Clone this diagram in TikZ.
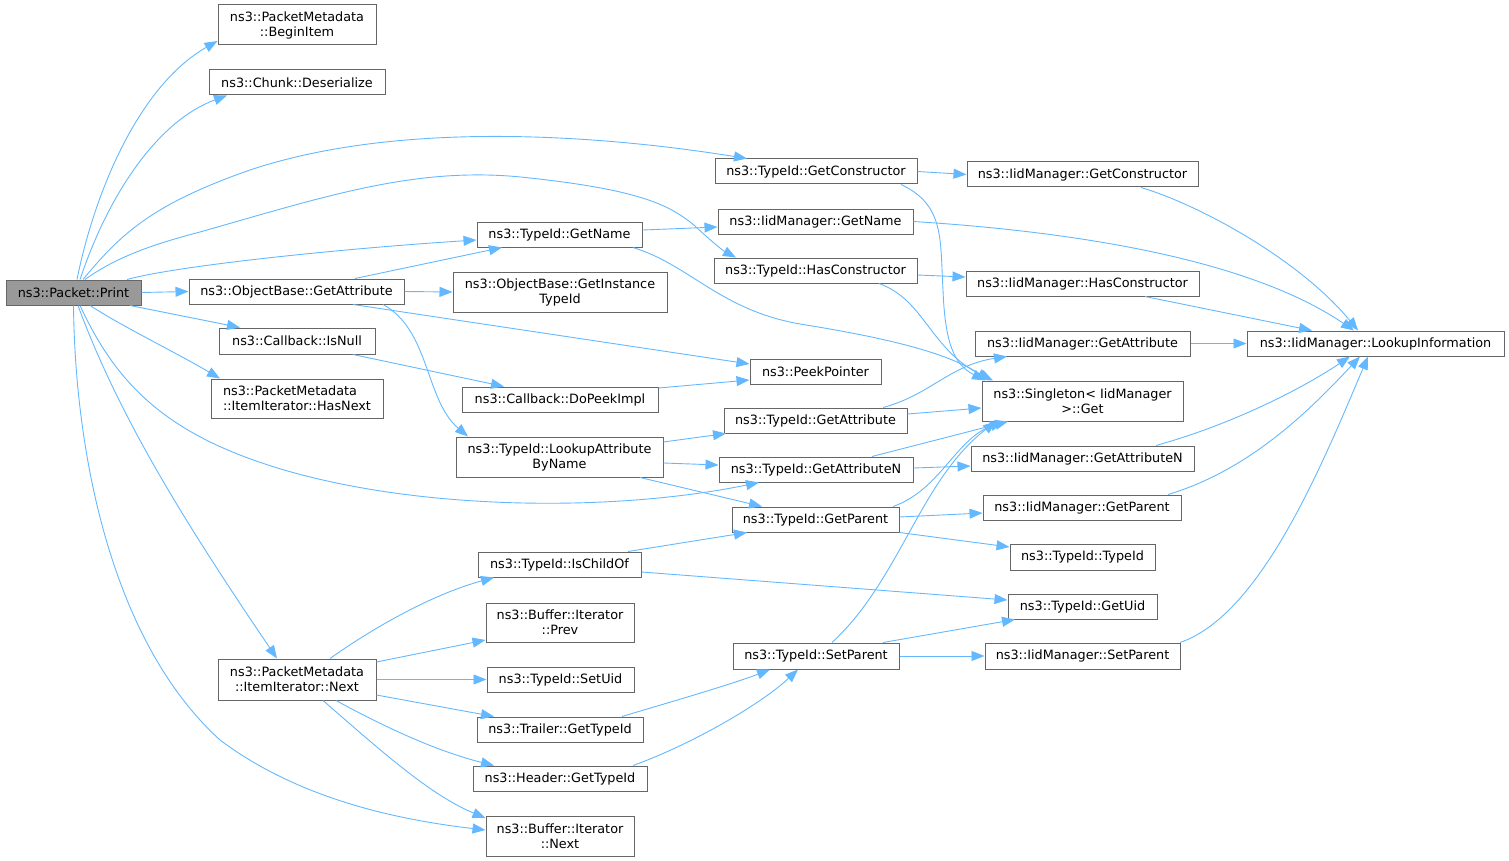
\documentclass[tikz,border=0pt]{standalone}
\usepackage{fontspec}
\setmainfont{DejaVu Sans}
\usetikzlibrary{arrows.meta}
\definecolor{edgeblue}{HTML}{63B8FF}
\definecolor{boxgray}{HTML}{666666}
\definecolor{printfill}{HTML}{999999}
\newcommand\nodefont{\fontsize{12.8}{15}\selectfont}
\newcommand\gnode[7][]{\node[box,#1,minimum width={(#5-#3)*1pt},minimum height={(#6-#4)*1pt}] (#2) at ({(#3+#5)/2},{(#4+#6)/2}) {#7};}
\tikzset{
  box/.style={draw=boxgray, fill=white, line width=1pt, inner sep=0pt, font=\nodefont, align=center},
  edge/.style={draw=edgeblue, line width=0.9pt, -{Triangle[length=13pt,width=10pt]}}
}
\begin{document}
\begin{tikzpicture}[x=1pt,y=-1pt]
\useasboundingbox (0,0) rectangle (1509,861);
% nodes
\gnode[fill=printfill]{print}{6}{280}{141}{305}{ns3::Packet::Print}
\gnode{beginitem}{218}{5}{376}{45}{ns3::PacketMetadata\\::BeginItem}
\gnode{deser}{209}{70}{385}{95}{ns3::Chunk::Deserialize}
\gnode{tgetctor}{715}{159}{917}{184}{ns3::TypeId::GetConstructor}
\gnode{igetctor}{967}{162}{1198}{187}{ns3::IidManager::GetConstructor}
\gnode{igetname}{718}{209}{913}{234}{ns3::IidManager::GetName}
\gnode{tgetname}{477}{222}{642}{247}{ns3::TypeId::GetName}
\gnode{thasctor}{714}{258}{917}{283}{ns3::TypeId::HasConstructor}
\gnode{ihasctor}{966}{271}{1199}{296}{ns3::IidManager::HasConstructor}
\gnode{oga}{189}{279}{404}{304}{ns3::ObjectBase::GetAttribute}
\gnode{ogit}{453}{272}{667}{312}{ns3::ObjectBase::GetInstance\\TypeId}
\gnode{isnull}{219}{328}{375}{354}{ns3::Callback::IsNull}
\gnode{igetattr}{975}{331}{1190}{356}{ns3::IidManager::GetAttribute}
\gnode{lookup}{1247}{331}{1504}{356}{ns3::IidManager::LookupInformation}
\gnode{peek}{750}{359}{881}{384}{ns3::PeekPointer}
\gnode{sget}{982}{381}{1183}{421}{ns3::Singleton< IidManager\\>::Get}
\gnode[align=left]{hasnext}{211}{379}{383}{418}{ns3::PacketMetadata\\::ItemIterator::HasNext}
\gnode{dopeek}{462}{387}{658}{412}{ns3::Callback::DoPeekImpl}
\gnode{tgetattr}{724}{408}{907}{433}{ns3::TypeId::GetAttribute}
\gnode{lookupattr}{456}{437}{663}{477}{ns3::TypeId::LookupAttribute\\ByName}
\gnode{tgetattrn}{719}{457}{913}{482}{ns3::TypeId::GetAttributeN}
\gnode{igetattrn}{971}{446}{1194}{471}{ns3::IidManager::GetAttributeN}
\gnode{tgetparent}{732}{507}{899}{532}{ns3::TypeId::GetParent}
\gnode{igetparent}{983}{495}{1181}{520}{ns3::IidManager::GetParent}
\gnode{ttypeid}{1010}{544}{1155}{570}{ns3::TypeId::TypeId}
\gnode{ischild}{478}{552}{641}{577}{ns3::TypeId::IsChildOf}
\gnode{getuid}{1008}{594}{1157}{619}{ns3::TypeId::GetUid}
\gnode{prev}{486}{603}{634}{642}{ns3::Buffer::Iterator\\::Prev}
\gnode{next}{218}{659}{376}{700}{ns3::PacketMetadata\\::ItemIterator::Next}
\gnode{setuid}{487}{667}{634}{692}{ns3::TypeId::SetUid}
\gnode{setparent}{733}{643}{899}{669}{ns3::TypeId::SetParent}
\gnode{isetparent}{985}{643}{1180}{669}{ns3::IidManager::SetParent}
\gnode{trailer}{477}{717}{643}{742}{ns3::Trailer::GetTypeId}
\gnode{header}{473}{766}{647}{791}{ns3::Header::GetTypeId}
\gnode{bnext}{486}{816}{634}{856}{ns3::Buffer::Iterator\\::Next}
% edges from Print
\draw[edge] ([xshift=3.5pt]print.north) .. controls (95,190) and (140,85) .. ([yshift=-16pt]beginitem.west);
\draw[edge] ([xshift=6.5pt]print.north) .. controls (110,190) and (160,120) .. ([xshift=-70pt]deser.south);
\draw[edge] ([xshift=9.5pt]print.north) .. controls (120,235) and (150,205) .. (250,170) .. controls (400,120) and (600,135) .. ([xshift=-69pt]tgetctor.north);
\draw[edge] ([xshift=11.5pt]print.north) .. controls (115,258) and (150,245) .. (200,232) .. controls (330,195) and (420,165) .. (530,178) .. controls (640,190) and (670,205) .. (695,226) .. controls (710,240) and (722,250) .. ([xshift=-79.5pt]thasctor.north);
\draw[edge] ([xshift=53.5pt]print.north) .. controls (180,265) and (350,248) .. ([yshift=-5.5pt]tgetname.west);
\draw[edge] (print.east) -- (oga.west);
\draw[edge] ([xshift=56.5pt]print.south) -- ([xshift=-57pt]isnull.north);
\draw[edge] ([xshift=16.5pt]print.south) .. controls (125,328) and (175,352) .. ([xshift=-77pt]hasnext.north);
\draw[edge] ([xshift=6.5pt]print.south) .. controls (110,370) and (150,420) .. (240,455) .. controls (380,510) and (600,515) .. ([xshift=-57pt]tgetattrn.south);
\draw[edge] ([xshift=4.5pt]print.south) .. controls (120,420) and (190,530) .. ([xshift=-20pt]next.north);
\draw[edge] (print.south) .. controls (75,450) and (110,640) .. (220,740) .. controls (300,800) and (400,820) .. ([yshift=6pt]bnext.west);
% ObjectBase::GetAttribute
\draw[edge] ([xshift=58.5pt]oga.north) -- ([xshift=-57.5pt]tgetname.south);
\draw[edge] (oga.east) -- (ogit.west);
\draw[edge] ([xshift=56.5pt]oga.south) -- ([yshift=7.5pt]peek.west);
\draw[edge] ([xshift=86.5pt]oga.south) .. controls (430,330) and (425,400) .. ([xshift=-91.5pt]lookupattr.north);
% Callback
\draw[edge] ([xshift=56pt]isnull.south) -- ([xshift=-56pt]dopeek.north);
\draw[edge] ([yshift=11.5pt]dopeek.east) -- ([yshift=-8.5pt]peek.west);
% TypeId::GetName
\draw[edge] ([yshift=4.5pt]tgetname.east) -- ([yshift=-5.5pt]igetname.west);
\draw[edge] ([xshift=73.5pt]tgetname.south) .. controls (690,265) and (720,310) .. (800,324) .. controls (900,340) and (950,355) .. ([xshift=-92.5pt]sget.north);
% TypeId::GetConstructor
\draw[edge] (tgetctor.east) -- (igetctor.west);
\draw[edge] ([xshift=85pt]tgetctor.south) .. controls (945,205) and (940,240) .. (943,290) .. controls (945,345) and (955,365) .. ([xshift=-97.5pt]sget.north);
% TypeId::HasConstructor
\draw[edge] ([yshift=-4.5pt]thasctor.east) -- ([yshift=6.5pt]ihasctor.west);
\draw[edge] ([xshift=63.5pt]thasctor.south) .. controls (925,300) and (930,350) .. ([xshift=-89.5pt]sget.north);
% IidManager -> LookupInformation
\draw[edge] ([xshift=58.5pt]igetctor.south) .. controls (1200,205) and (1300,260) .. ([xshift=-17.5pt]lookup.north);
\draw[edge] (igetname.east) .. controls (1080,232) and (1250,260) .. ([xshift=-21.5pt]lookup.north);
\draw[edge] ([xshift=62.5pt]ihasctor.south) -- ([xshift=-63.5pt]lookup.north);
\draw[edge] (igetattr.east) -- (lookup.west);
\draw[edge] ([xshift=73.5pt]igetattrn.north) .. controls (1230,425) and (1300,390) .. ([xshift=-25.5pt]lookup.south);
\draw[edge] ([xshift=86pt]igetparent.north) .. controls (1250,470) and (1310,410) .. ([xshift=-15.5pt]lookup.south);
\draw[edge] ([xshift=97.5pt]isetparent.north) .. controls (1260,615) and (1320,470) .. ([xshift=-7.5pt]lookup.south);
% LookupAttributeByName
\draw[edge] ([yshift=15pt]lookupattr.east) -- ([xshift=-89.5pt]tgetattr.south);
\draw[edge] ([yshift=-6pt]lookupattr.east) -- ([yshift=4.5pt]tgetattrn.west);
\draw[edge] ([xshift=80.5pt]lookupattr.south) -- ([xshift=-53.5pt]tgetparent.north);
% TypeId::GetAttribute
\draw[edge] ([xshift=67.5pt]tgetattr.north) .. controls (930,395) and (950,365) .. ([xshift=-75.5pt]igetattr.south);
\draw[edge] ([yshift=6.5pt]tgetattr.east) -- ([yshift=-7pt]sget.west);
% TypeId::GetAttributeN
\draw[edge] ([yshift=1.5pt]tgetattrn.east) -- ([yshift=-7.5pt]igetattrn.west);
\draw[edge] ([xshift=56pt]tgetattrn.north) -- ([xshift=-74.5pt]sget.south);
% TypeId::GetParent
\draw[edge] ([xshift=77.5pt]tgetparent.north) .. controls (940,490) and (955,440) .. ([xshift=-79.5pt]sget.south);
\draw[edge] ([yshift=2.5pt]tgetparent.east) -- ([yshift=-5.5pt]igetparent.west);
\draw[edge] (tgetparent.south east) -- ([yshift=10pt]ttypeid.west);
% IsChildOf
\draw[edge] ([xshift=68.5pt]ischild.north) -- ([xshift=-68.5pt]tgetparent.south);
\draw[edge] ([yshift=-7.5pt]ischild.east) -- ([yshift=6.5pt]getuid.west);
% SetParent
\draw[edge] ([xshift=16pt]setparent.north) .. controls (900,580) and (920,480) .. ([xshift=-86.5pt]sget.south);
\draw[edge] ([xshift=67pt]setparent.north) -- ([xshift=-67.5pt]getuid.south);
\draw[edge] (setparent.east) -- (isetparent.west);
% ItemIterator::Next
\draw[edge] ([xshift=33pt]next.north) .. controls (370,630) and (430,595) .. ([xshift=-65.5pt]ischild.south);
\draw[edge] ([yshift=17.5pt]next.east) -- ([yshift=-17.5pt]prev.west);
\draw[edge] (next.east) -- (setuid.west);
\draw[edge] ([yshift=-15.5pt]next.east) -- ([xshift=-66pt]trailer.north);
\draw[edge] ([xshift=39pt]next.south) .. controls (390,730) and (440,752) .. ([xshift=-66pt]header.north);
\draw[edge] ([xshift=26pt]next.south) .. controls (380,750) and (430,795) .. ([yshift=18pt]bnext.west);
% GetTypeId -> SetParent
\draw[edge] ([xshift=62pt]trailer.north) .. controls (660,705) and (730,685) .. ([xshift=-46pt]setparent.south);
\draw[edge] ([xshift=73pt]header.north) .. controls (690,745) and (760,705) .. ([xshift=-18pt]setparent.south);
\end{tikzpicture}
\end{document}
